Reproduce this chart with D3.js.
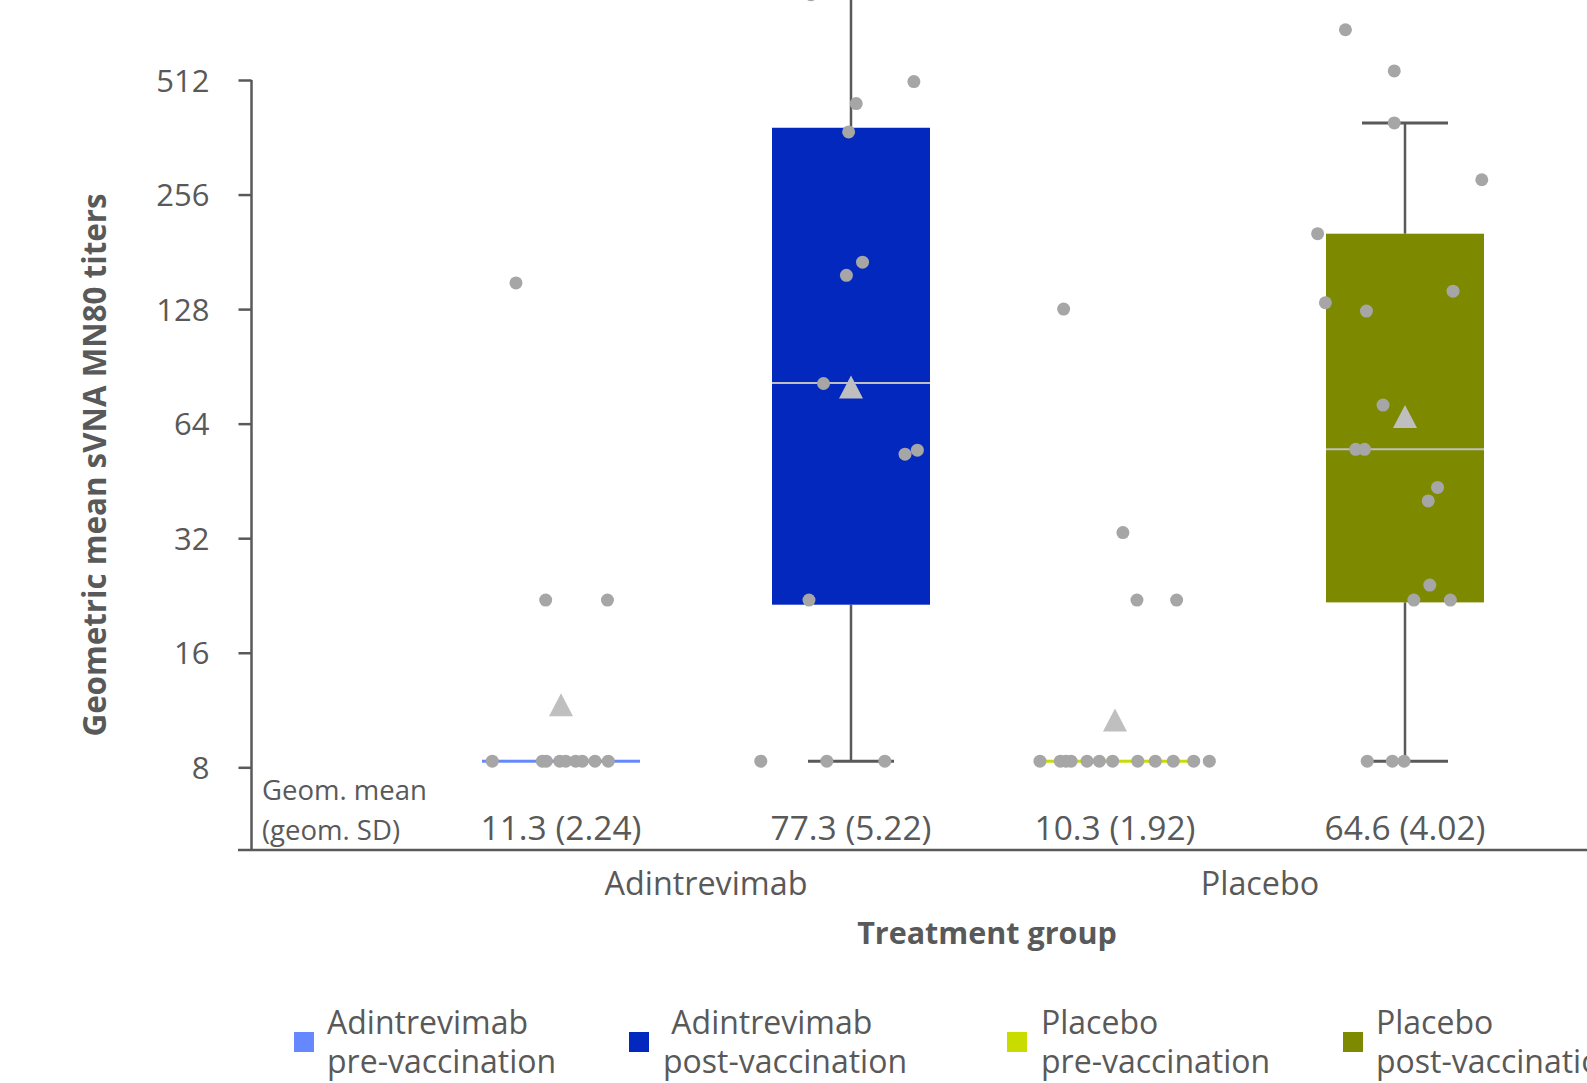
<!DOCTYPE html>
<html><head><meta charset="utf-8">
<script src="https://cdn.jsdelivr.net/npm/d3@7"></script>
<style>
body{margin:0;background:#fff;}
svg{display:block;font-family:'Open Sans',sans-serif;}
</style>
</head><body>
<svg id="chart" width="1587" height="1083"></svg>
<script>
// ---------------- data ----------------
const groups = ["Adintrevimab", "Placebo"];
const phases = ["pre", "post"];
const seriesGroup = ["Adintrevimab", "Adintrevimab", "Placebo", "Placebo"];
const seriesPhase = ["pre", "post", "pre", "post"];
const legendLine1 = ["Adintrevimab", "\u00A0Adintrevimab", "Placebo", "Placebo"];
const legendLine2 = ["pre-vaccination", "post-vaccination", "pre-vaccination", "post-vaccination"];
const yTicks = [8, 16, 32, 64, 128, 256, 512];

const geoMeans = [11.3, 77.3, 10.3, 64.6];
const geoSDs = [2.24, 5.22, 1.92, 4.02];
const q1 = [8.3, 21.4, 8.3, 21.7];
const medians = [8.3, 81.8, 8.3, 54.8];
const q3 = [8.3, 383.5, 8.3, 202];
const whiskerLow = [8.3, 8.3, 8.3, 8.3];
const whiskerHigh = [8.3, 1100, 8.3, 395];

// individual titers (with horizontal jitter as fraction of box width)
const valuesAdinPre = [150, 22, 22, 8.3, 8.3, 8.3, 8.3, 8.3, 8.3, 8.3, 8.3, 8.3];
const jitterAdinPre = [-0.285, -0.097, 0.294, -0.435, -0.118, -0.093, -0.008, 0.030, 0.093, 0.135, 0.215, 0.299];
const valuesAdinPost = [858, 507, 444, 374, 170, 157, 81.6, 54.5, 53.2, 22, 8.3, 8.3, 8.3];
const jitterAdinPost = [-0.254, 0.398, 0.033, -0.015, 0.073, -0.029, -0.174, 0.42, 0.342, -0.266, -0.571, -0.153, 0.214];
const valuesPlaceboPre = [128, 33.1, 22, 22, 8.3, 8.3, 8.3, 8.3, 8.3, 8.3, 8.3, 8.3, 8.3, 8.3, 8.3, 8.3];
const jitterPlaceboPre = [-0.325, 0.05, 0.139, 0.39, -0.475, -0.346, -0.310, -0.278, -0.177, -0.099, -0.015, 0.144, 0.255, 0.369, 0.498, 0.597];
const valuesPlaceboPost = [694, 541, 395, 280, 202, 133, 126.5, 142.7, 71.6, 54.8, 54.8, 43.5, 40.1, 24.1, 22, 22, 8.3, 8.3, 8.3];
const jitterPlaceboPost = [-0.377, -0.068, -0.068, 0.486, -0.553, -0.504, -0.244, 0.304, -0.139, -0.312, -0.256, 0.206, 0.147, 0.157, 0.056, 0.287, -0.239, -0.080, -0.006];

const seriesValues = [valuesAdinPre, valuesAdinPost, valuesPlaceboPre, valuesPlaceboPost];
const seriesJitter = [jitterAdinPre, jitterAdinPost, jitterPlaceboPre, jitterPlaceboPost];

// ---------------- styles / layout ----------------
const colors = ["#6688ff", "#0328be", "#c8dc00", "#7d8a00"];
const textColor = "#595959";
const axisColor = "#595959";
const dotColor = "#a6a6a6";
const meanColor = "#bfbfbf";
const boxW = 158, capW = 86;

const svg = d3.select("#chart");

const y = d3.scaleLog().base(2).domain([8, 512]).range([767.3, 80]);
const x0 = d3.scaleBand().domain(groups).range([429, 1537]);
const x1 = d3.scalePoint().domain(phases).range([-145, 145]);
const jit = d3.scaleLinear().domain([0, 1]).range([0, boxW]);
const cx = i => x0(seriesGroup[i]) + x0.bandwidth() / 2 + x1(seriesPhase[i]);

// y axis
const yAxis = d3.axisLeft(y).tickValues(yTicks).tickFormat(d3.format("d"))
  .tickSizeInner(13).tickSizeOuter(0).tickPadding(29);
const gy = svg.append("g").attr("transform", "translate(251.5,0)").call(yAxis);
gy.select(".domain").remove();
gy.selectAll(".tick line").attr("stroke", axisColor).attr("stroke-width", 2.5);
gy.selectAll(".tick text").attr("fill", textColor).style("font-size", "31px")
  .style("font-family", "'Open Sans',sans-serif").attr("dy", "0.36em");
svg.append("line").attr("x1", 251.5).attr("x2", 251.5).attr("y1", y(512)).attr("y2", 850)
  .attr("stroke", axisColor).attr("stroke-width", 2.5);
svg.append("line").attr("x1", 238).attr("x2", 1587).attr("y1", 850).attr("y2", 850)
  .attr("stroke", axisColor).attr("stroke-width", 2.5);

// boxes
const idx = d3.range(4);
const plot = svg.append("g");
idx.forEach(i => {
  const c = cx(i);
  if (whiskerHigh[i] > q3[i]) {
    plot.append("line").attr("x1", c).attr("x2", c).attr("y1", y(q3[i])).attr("y2", y(whiskerHigh[i]))
      .attr("stroke", axisColor).attr("stroke-width", 2.5);
    plot.append("line").attr("x1", c - capW / 2).attr("x2", c + capW / 2)
      .attr("y1", y(whiskerHigh[i])).attr("y2", y(whiskerHigh[i]))
      .attr("stroke", axisColor).attr("stroke-width", 3);
  }
  if (whiskerLow[i] < q1[i]) {
    plot.append("line").attr("x1", c).attr("x2", c).attr("y1", y(q1[i])).attr("y2", y(whiskerLow[i]))
      .attr("stroke", axisColor).attr("stroke-width", 2.5);
    plot.append("line").attr("x1", c - capW / 2).attr("x2", c + capW / 2)
      .attr("y1", y(whiskerLow[i])).attr("y2", y(whiskerLow[i]))
      .attr("stroke", axisColor).attr("stroke-width", 3);
  }
  const top = y(q3[i]), bot = y(q1[i]);
  const h = Math.max(bot - top, 3);
  plot.append("rect").attr("x", c - boxW / 2).attr("y", (top + bot) / 2 - h / 2)
    .attr("width", boxW).attr("height", h).attr("fill", colors[i]);
  if (q3[i] > q1[i]) {
    plot.append("line").attr("x1", c - boxW / 2).attr("x2", c + boxW / 2)
      .attr("y1", y(medians[i])).attr("y2", y(medians[i]))
      .attr("stroke", meanColor).attr("stroke-width", 2);
  }
});

// dots
idx.forEach(i => {
  const c = cx(i);
  plot.append("g").selectAll("circle").data(seriesValues[i].map((v, k) => ({v, j: seriesJitter[i][k]})))
    .join("circle")
    .attr("cx", d => c + jit(d.j)).attr("cy", d => y(d.v)).attr("r", 6.5)
    .attr("fill", dotColor);
});

// mean triangles
idx.forEach(i => {
  const c = cx(i), yy = y(geoMeans[i]);
  const p = d3.path();
  p.moveTo(c, yy - 17); p.lineTo(c + 12, yy + 6); p.lineTo(c - 12, yy + 6); p.closePath();
  plot.append("path").attr("d", p.toString()).attr("fill", meanColor);
});

// stats row
svg.append("text").attr("x", 262).attr("y", 800).attr("fill", textColor)
  .style("font-size", "27.5px").text("Geom. mean");
svg.append("text").attr("x", 262).attr("y", 840).attr("fill", textColor)
  .style("font-size", "27.5px").text("(geom. SD)");
idx.forEach(i => {
  svg.append("text").attr("x", cx(i)).attr("y", 840).attr("text-anchor", "middle")
    .attr("fill", textColor).style("font-size", "33.5px")
    .text(`${geoMeans[i].toFixed(1)} (${geoSDs[i].toFixed(2)})`);
});

// group labels
groups.forEach(g => {
  svg.append("text").attr("x", x0(g) + x0.bandwidth() / 2).attr("y", 895)
    .attr("text-anchor", "middle").attr("fill", textColor).style("font-size", "32.3px").text(g);
});

// axis titles
svg.append("text").attr("x", 987).attr("y", 944).attr("text-anchor", "middle")
  .attr("fill", textColor).style("font-size", "30.5px").style("font-weight", "bold").text("Treatment group");
svg.append("text").attr("transform", "translate(106,465) rotate(-90)").attr("text-anchor", "middle")
  .attr("fill", textColor).style("font-size", "31.3px").style("font-weight", "bold")
  .text("Geometric mean sVNA MN80 titers");

// legend
const legendX = [294, 629, 1007, 1343];
const legendTextDx = [33, 34, 34, 33];
idx.forEach(i => {
  const g = svg.append("g").attr("transform", `translate(${legendX[i]},0)`);
  g.append("rect").attr("x", 0).attr("y", 1032).attr("width", 20).attr("height", 20).attr("fill", colors[i]);
  g.append("text").attr("x", legendTextDx[i]).attr("y", 1034).attr("fill", textColor)
    .style("font-size", "32px").text(legendLine1[i]);
  g.append("text").attr("x", legendTextDx[i]).attr("y", 1073).attr("fill", textColor)
    .style("font-size", "32px").text(legendLine2[i]);
});
</script>
</body></html>
